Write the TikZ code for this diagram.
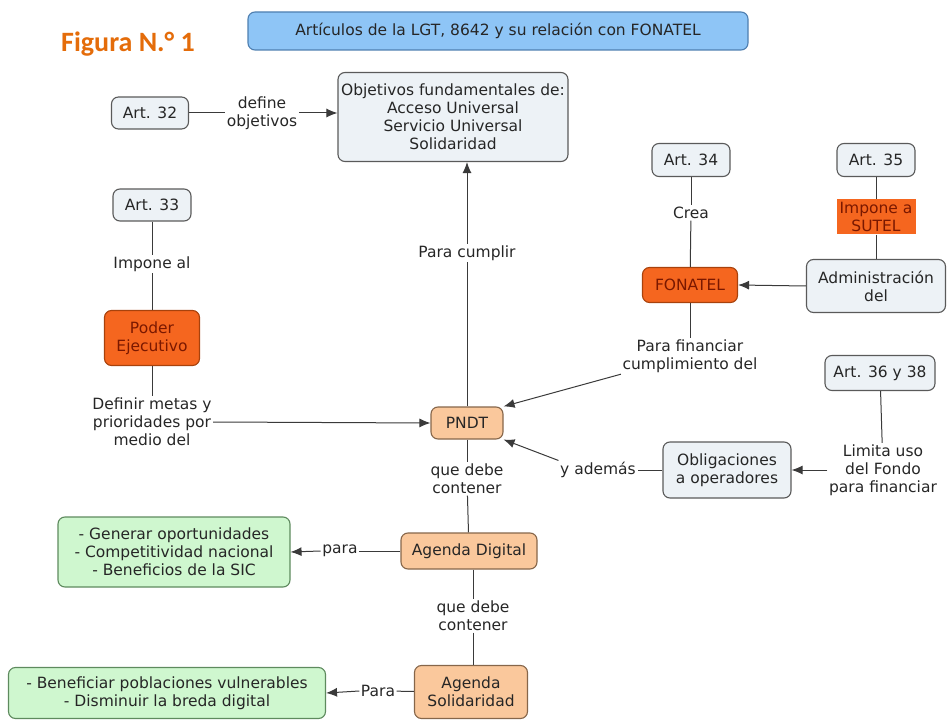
\documentclass[tikz,border=0pt]{standalone}
\usepackage{fontspec}
\setmainfont{DejaVu Sans}
\newfontfamily\titlefont{Carlito}
\usetikzlibrary{arrows.meta}
\definecolor{boxfill}{HTML}{EDF2F6}
\definecolor{boxborder}{HTML}{5A5A5A}
\definecolor{topblue}{HTML}{8EC5F6}
\definecolor{topborder}{HTML}{4F7FB0}
\definecolor{orfill}{HTML}{F5661F}
\definecolor{orborder}{HTML}{A8420C}
\definecolor{ortext}{HTML}{7A1800}
\definecolor{peach}{HTML}{FAC89C}
\definecolor{peachborder}{HTML}{86664A}
\definecolor{greenfill}{HTML}{CFF7CF}
\definecolor{greenborder}{HTML}{5E8A5E}
\definecolor{linec}{HTML}{3A3A3A}
\definecolor{titleor}{HTML}{E46C0A}
\begin{document}
\begin{tikzpicture}[x=1pt,y=-1pt,
  every node/.style={font=\fontsize{15.5}{18}\selectfont, text=black!85},
  box/.style={draw=boxborder, fill=boxfill, rounded corners=7pt, line width=1.1pt, align=center, inner sep=0pt},
  orbox/.style={box, fill=orfill, draw=orborder, text=ortext},
  pbox/.style={box, fill=peach, draw=peachborder},
  gbox/.style={box, fill=greenfill, draw=greenborder},
  lab/.style={align=center, inner sep=1.5pt},
  con/.style={draw=linec, line width=1pt},
  arr/.style={con, -{Latex[length=11pt,width=9pt]}}]
\useasboundingbox (0,0) rectangle (951,722);
\node[font=\titlefont\bfseries\fontsize{28}{30}\selectfont, text=titleor] (fig) at (128,44) {Figura N.° 1};
\node[box, fill=topblue, draw=topborder, minimum width=500, minimum height=38] (top) at (498,31) {Artículos de la LGT, 8642 y su relación con FONATEL};
\node[box, minimum width=230, minimum height=89] (obj) at (453,117) {Objetivos fundamentales de:\\Acceso Universal\\Servicio Universal\\Solidaridad};
\node[box, minimum width=77, minimum height=32] (a32) at (150,113) {Art. 32};
\node[lab] (defobj) at (262,113) {define\\objetivos};
\node[box, minimum width=78, minimum height=32] (a33) at (152,205) {Art. 33};
\node[lab] (impal) at (152,264) {Impone al};
\node[orbox, minimum width=95, minimum height=55] (poder) at (152,338) {Poder\\Ejecutivo};
\node[lab] (metas) at (152,422) {Definir metas y\\prioridades por\\medio del};
\node[pbox, minimum width=72, minimum height=32] (pndt) at (467,423) {PNDT};
\node[lab] (cumplir) at (467,253) {Para cumplir};
\node[box, minimum width=78, minimum height=33] (a34) at (691,160) {Art. 34};
\node[lab] (crea) at (691,213) {Crea};
\node[orbox, minimum width=95, minimum height=35] (fonatel) at (690,285) {FONATEL};
\node[box, minimum width=78, minimum height=33] (a35) at (876,160) {Art. 35};
\node[fill=orfill, text=ortext, align=center, inner sep=0pt, minimum width=79, minimum height=35] (sutel) at (876,217) {Impone a\\SUTEL};
\node[box, minimum width=139, minimum height=53] (admin) at (876,286) {Administración\\del};
\node[lab] (financiar) at (690,356) {Para financiar\\cumplimiento del};
\node[box, minimum width=110, minimum height=35] (a36) at (880,373) {Art. 36 y 38};
\node[lab] (limita) at (883,470) {Limita uso\\del Fondo\\para financiar};
\node[box, minimum width=128, minimum height=56] (oblig) at (727,470) {Obligaciones\\a operadores};
\node[lab] (ademas) at (598,470) {y además};
\node[lab] (qdc1) at (467,479) {que debe\\contener};
\node[pbox, minimum width=136, minimum height=36] (agdig) at (469,551) {Agenda Digital};
\node[lab] (para1) at (340,551) {para};
\node[gbox, minimum width=232, minimum height=70] (g1) at (174,552) {- Generar oportunidades\\- Competitividad nacional\\- Beneficios de la SIC};
\node[lab] (qdc2) at (473,616) {que debe\\contener};
\node[pbox, minimum width=113, minimum height=53] (agsol) at (471,692) {Agenda\\Solidaridad};
\node[lab] (para2) at (378,691) {Para};
\node[gbox, minimum width=317, minimum height=51] (g2) at (167,693) {- Beneficiar poblaciones vulnerables\\- Disminuir la breda digital};
% connectors
\draw[con] (a32) -- (defobj);
\draw[arr] (defobj.east) -- (obj.west |- defobj.east);
\draw[con] (a33) -- (impal);
\draw[con] (impal) -- (poder);
\draw[con] (poder) -- (metas);
\draw[arr] (metas.east) -- (pndt.west);
\draw[con] (pndt) -- (cumplir);
\draw[arr] (cumplir) -- (cumplir |- obj.south);
\draw[con] (a34) -- (crea);
\draw[con] (crea) -- (fonatel);
\draw[con] (a35) -- (sutel);
\draw[con] (sutel) -- (admin);
\draw[arr] (admin.west) -- (fonatel.east);
\draw[con] (fonatel) -- (financiar);
\draw[arr] (financiar.south west) -- (pndt.north east);
\draw[con] (a36) -- (limita);
\draw[arr] (limita.west) -- (oblig.east);
\draw[con] (oblig.west) -- (ademas.east);
\draw[arr] (ademas.north west) -- (pndt.south east);
\draw[con] (pndt) -- (qdc1);
\draw[con] (qdc1) -- (agdig);
\draw[con] (agdig) -- (para1);
\draw[arr] (para1.west) -- (g1.east);
\draw[con] (agdig.south -| qdc2) -- (qdc2);
\draw[con] (qdc2) -- (agsol.north -| qdc2);
\draw[con] (agsol) -- (para2);
\draw[arr] (para2.west) -- (g2.east);
\end{tikzpicture}
\end{document}
